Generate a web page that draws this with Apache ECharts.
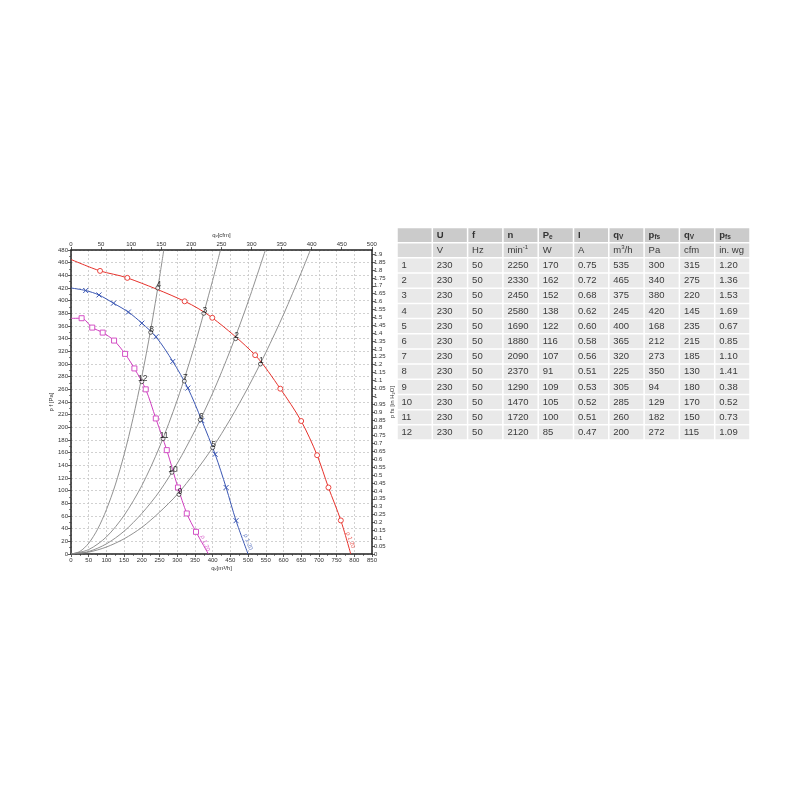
<!DOCTYPE html>
<html><head><meta charset="utf-8">
<script src="https://cdn.jsdelivr.net/npm/echarts@6/dist/echarts.min.js"></script>
<style>html,body{margin:0;padding:0;background:#fff}#c{width:800px;height:800px}</style>
</head><body><div id="c"></div>
<script>
// ---- fan curves: [q (m3/h), p (Pa)] ----
const redCurve = [[0,465],[82,447],[159,436],[321,399],[399,373],[520,314],[591,261],[650,210],[695,156],[727,105],[762,53],[790,0]];
const blueCurve = [[0,420],[41.5,416],[79,409],[120,396],[162,382],[200,364.5],[240,343],[287.5,304],[330,262],[369.5,210.6],[407,157.5],[438,105],[466,52.6],[500,0]];
const magentaCurve = [[0,372],[30,372.3],[60,357.5],[89.5,349.6],[121.6,337],[152.7,316],[179,293],[211,260],[239.5,214],[270.5,164],[302,105],[327,64],[353,35],[388,0]];
// ---- system curves (grey) ----
const sysCurve4 = [[0,0],[25,4],[50,17],[75,39],[100,70],[125,109],[150,157],[175,214],[200,280],[225,354],[250,437],[262,480]];
const sysCurve3 = [[0,0],[50,7],[100,27],[150,61],[200,108],[250,169],[300,243],[350,331],[400,432],[422,480]];
const sysCurve2 = [[0,0],[50,4],[100,16],[150,36],[200,64],[250,99],[300,143],[350,195],[400,254],[450,322],[500,398],[549,480]];
const sysCurve1 = [[0,0],[50,3],[100,11],[150,24],[200,42],[250,66],[300,94],[350,129],[400,168],[450,213],[500,263],[550,318],[600,378],[650,444],[676,480]];
// ---- curve end tags ----
const curveTagText = 'ρ 1.20';
const redTag = [789, 22], blueTag = [500, 19], magentaTag = [379, 17];
// ---- table ----
const rowIds = ['1','2','3','4','5','6','7','8','9','10','11','12'];
const colU = ['230','230','230','230','230','230','230','230','230','230','230','230'];
const colF = ['50','50','50','50','50','50','50','50','50','50','50','50'];
const colN = ['2250','2330','2450','2580','1690','1880','2090','2370','1290','1470','1720','2120'];
const colPe = ['170','162','152','138','122','116','107','91','109','105','100','85'];
const colI = ['0.75','0.72','0.68','0.62','0.60','0.58','0.56','0.51','0.53','0.52','0.51','0.47'];
const colQv = [535,465,375,245,400,365,320,225,305,285,260,200];
const colPfs = [300,340,380,420,168,212,273,350,94,129,182,272];
const colCfm = ['315','275','220','145','235','215','185','130','180','170','150','115'];
const colInWg = ['1.20','1.36','1.53','1.69','0.67','0.85','1.10','1.41','0.38','0.52','0.73','1.09'];
const headerRow = ['', '{b|U}', '{b|f}', '{b|n}', '{b|P}{bs|e}', '{b|I}', '{b|q}{bs|V}', '{b|p}{bs|fs}', '{b|q}{bs|V}', '{b|p}{bs|fs}'];
const unitRow = ['', '{n|V}', '{n|Hz}', '{n|min}{sup|-1}', '{n|W}', '{n|A}', '{n|m}{sup|3}{n|/h}', '{n|Pa}', '{n|cfm}', '{n|in. wg}'];

const tableFont = "'Liberation Sans Narrow', 'Liberation Sans', Arial, sans-serif";
const axisFont = "'Liberation Sans', Arial, sans-serif";

const cells = [];
headerRow.forEach((t, c) => cells.push([c, 0, t]));
unitRow.forEach((t, c) => cells.push([c, 1, t]));
rowIds.forEach((id, r) => {
  const vals = [id, colU[r], colF[r], colN[r], colPe[r], colI[r], String(colQv[r]), String(colPfs[r]), colCfm[r], colInWg[r]];
  vals.forEach((t, c) => cells.push([c, r + 2, '{n|' + t + '}']));
});

const textColor = '#3a3a3a';
const rich = {
  b: {fontSize: 9.5, fontWeight: 'bold', fontFamily: tableFont, fill: '#333', color: '#333', lineHeight: 12},
  bs: {fontSize: 6.5, fontWeight: 'bold', fontFamily: tableFont, fill: '#333', color: '#333', lineHeight: 6, verticalAlign: 'bottom'},
  n: {fontSize: 9.5, fontFamily: tableFont, fill: textColor, color: textColor, lineHeight: 12},
  sup: {fontSize: 6, fontFamily: tableFont, fill: textColor, color: textColor, lineHeight: 6, verticalAlign: 'top'}
};

function curveData(arr) {
  return arr.map((p, i) => (i === 0 || i === arr.length - 1) ? {value: p, symbol: 'none'} : p);
}
function sysSeries(d) {
  return {type: 'line', xAxisIndex: 0, yAxisIndex: 0, data: d, smooth: 0.3, symbol: 'none', z: 2,
    lineStyle: {color: '#858585', width: 0.9}};
}
const RED = '#e6322c', BLUE = '#3b57b3', MAG = '#cf3fbf';

const option = {
  animation: false,
  textStyle: {fontFamily: axisFont},
  grid: [
    {left: 71, width: 301, top: 250, height: 304},
    {left: 397, width: 353, top: 227.5, height: 212.5}
  ],
  xAxis: [
    {gridIndex: 0, type: 'value', min: 0, max: 850, interval: 50, position: 'bottom',
      axisLine: {show: true, onZero: false, lineStyle: {color: '#222', width: 1.5}},
      axisTick: {show: true, length: 3, lineStyle: {color: '#333', width: 0.8}},
      minorTick: {show: true, splitNumber: 2, length: 2, lineStyle: {color: '#333', width: 0.6}},
      axisLabel: {fontSize: 6, color: '#333', margin: 3},
      splitLine: {show: true, lineStyle: {type: [2, 2], color: '#c6c6c6', width: 0.8}},
      name: 'q\u1d65[m³/h]', nameLocation: 'middle', nameGap: 11, nameTextStyle: {fontSize: 6, color: '#333'}},
    {gridIndex: 0, type: 'value', min: 0, max: 500.3, interval: 50, position: 'top',
      axisLine: {show: true, onZero: false, lineStyle: {color: '#222', width: 1.5}},
      axisTick: {show: true, length: 3, lineStyle: {color: '#333', width: 0.8}},
      axisLabel: {fontSize: 6, color: '#333', margin: 3, showMaxLabel: false},
      splitLine: {show: false},
      name: 'q\u1d65[cfm]', nameLocation: 'middle', nameGap: 12, nameTextStyle: {fontSize: 6, color: '#333'}},
    {gridIndex: 1, type: 'category', data: [0,1,2,3,4,5,6,7,8,9], show: false}
  ],
  yAxis: [
    {gridIndex: 0, type: 'value', min: 0, max: 480, interval: 20, position: 'left',
      axisLine: {show: true, onZero: false, lineStyle: {color: '#222', width: 1.5}},
      axisTick: {show: true, length: 3, lineStyle: {color: '#333', width: 0.8}},
      minorTick: {show: true, splitNumber: 2, length: 2, lineStyle: {color: '#333', width: 0.6}},
      axisLabel: {fontSize: 6, color: '#333', margin: 3},
      splitLine: {show: true, lineStyle: {type: [2, 2], color: '#c6c6c6', width: 0.8}},
      name: 'p f [Pa]', nameLocation: 'middle', nameGap: 13, nameRotate: 90, nameTextStyle: {fontSize: 6, color: '#333'}},
    {gridIndex: 0, type: 'value', min: 0, max: 480 / 249.09, interval: 0.05, position: 'right',
      axisLine: {show: true, onZero: false, lineStyle: {color: '#222', width: 1.5}},
      axisTick: {show: true, length: 3, lineStyle: {color: '#333', width: 0.8}},
      axisLabel: {fontSize: 6, color: '#333', margin: 2, showMaxLabel: false},
      splitLine: {show: false},
      name: 'p fs [in H₂O]', nameLocation: 'middle', nameGap: 14, nameRotate: 90, nameTextStyle: {fontSize: 6, color: '#333'}},
    {gridIndex: 1, type: 'category', data: [0,1,2,3,4,5,6,7,8,9,10,11,12,13], inverse: true, show: false}
  ],
  series: [
    sysSeries(sysCurve1), sysSeries(sysCurve2), sysSeries(sysCurve3), sysSeries(sysCurve4),
    {type: 'line', name: 'red', data: curveData(redCurve), smooth: 0.3, z: 3,
      symbol: 'circle', symbolSize: 5, showAllSymbol: true,
      lineStyle: {color: RED, width: 1}, itemStyle: {color: '#fff', borderColor: RED, borderWidth: 0.9}},
    {type: 'line', name: 'blue', data: curveData(blueCurve), smooth: 0.3, z: 3,
      symbol: 'path://M0,0L10,10M10,0L0,10', symbolSize: 5, showAllSymbol: true,
      lineStyle: {color: BLUE, width: 1}, itemStyle: {color: 'none', borderColor: BLUE, borderWidth: 1}},
    {type: 'line', name: 'magenta', data: curveData(magentaCurve), smooth: 0.3, z: 3,
      symbol: 'rect', symbolSize: 5, showAllSymbol: true,
      lineStyle: {color: MAG, width: 1}, itemStyle: {color: '#fff', borderColor: MAG, borderWidth: 0.9}},
    {type: 'scatter', z: 5, data: colQv.map((q, i) => [q, colPfs[i]]),
      symbol: 'circle', symbolSize: 4,
      itemStyle: {color: '#fff', borderColor: '#111', borderWidth: 0.8},
      label: {show: true, position: 'inside', offset: [1, -3], fontSize: 8.5, color: '#000', fontFamily: tableFont,
        formatter: p => rowIds[p.dataIndex]}},
    {type: 'scatter', z: 4, symbolSize: 0, silent: true,
      data: [
        {value: redTag, label: {color: RED}},
        {value: blueTag, label: {color: BLUE}},
        {value: magentaTag, label: {color: MAG}}
      ],
      label: {show: true, position: 'inside', rotate: -70, fontSize: 6, formatter: curveTagText}},
    {type: 'custom', xAxisIndex: 2, yAxisIndex: 2, data: cells, z: 1,
      renderItem: function (params, api) {
        const c = api.coord([api.value(0), api.value(1)]);
        const s = api.size([1, 1]);
        const row = api.value(1);
        const cell = cells[params.dataIndex];
        const fill = row === 0 ? '#cbcbcb' : (row === 1 ? '#dadada' : '#e9e9e9');
        const x0 = c[0] - s[0] / 2, y0 = c[1] - s[1] / 2;
        return {type: 'group', children: [
          {type: 'rect', shape: {x: x0 + 0.75, y: y0 + 0.75, width: s[0] - 1.5, height: s[1] - 1.5}, style: {fill: fill}},
          {type: 'text', style: {text: cell[2], x: x0 + 4.5, y: c[1], align: 'left', verticalAlign: 'middle',
            fontSize: 9.5, fontFamily: tableFont, fill: textColor, rich: rich}}
        ]};
      }}
  ]
};
const chart = echarts.init(document.getElementById('c'), null, {renderer: 'canvas'});
chart.setOption(option);
</script></body></html>
